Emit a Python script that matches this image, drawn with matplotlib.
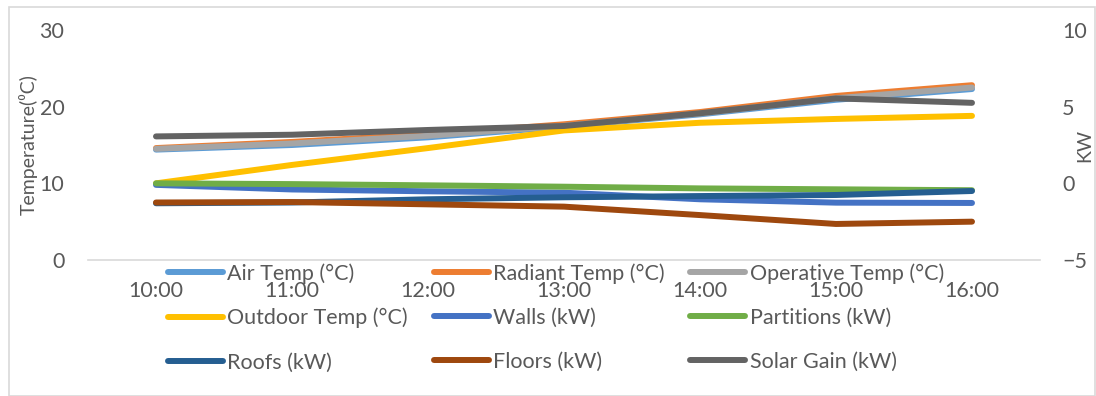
import matplotlib
matplotlib.use("Agg")
import matplotlib.pyplot as plt

plt.rcParams['font.family'] = ['Lato', 'DejaVu Sans']

hours = ["10:00", "11:00", "12:00", "13:00", "14:00", "15:00", "16:00"]

# temperatures (°C), left axis
air_temp = [14.4, 15.0, 16.0, 17.4, 19.0, 20.9, 22.3]
radiant_temp = [14.6, 15.4, 16.4, 17.7, 19.3, 21.4, 22.8]
operative_temp = [14.5, 15.2, 16.2, 17.5, 19.1, 21.1, 22.5]
outdoor_temp = [10.0, 12.4, 14.6, 16.9, 17.9, 18.4, 18.8]

# heat flows (kW), right axis
walls = [-0.1, -0.4, -0.52, -0.61, -1.04, -1.26, -1.28]
partitions = [0.0, -0.05, -0.13, -0.22, -0.33, -0.39, -0.45]
roofs = [-1.3, -1.25, -1.04, -0.91, -0.83, -0.76, -0.5]
floors = [-1.25, -1.22, -1.37, -1.52, -2.07, -2.65, -2.5]
solar_gain = [3.06, 3.17, 3.48, 3.74, 4.57, 5.54, 5.25]

W, H = 1096, 396
fig = plt.figure(figsize=(W / 100, H / 100), dpi=100)
ax = fig.add_axes([88 / W, 1 - 260 / H, (1040 - 88) / W, 230 / H])
ax2 = ax.twinx()

txt = "#595959"
fs = 15.5
lw = 4.3
x = list(range(len(hours)))

temp_series = [
    (air_temp, "Air Temp (°C)", "#5B9BD5"),
    (radiant_temp, "Radiant Temp (°C)", "#ED7D31"),
    (operative_temp, "Operative Temp (°C)", "#A5A5A5"),
    (outdoor_temp, "Outdoor Temp (°C)", "#FFC000"),
]
kw_series = [
    (walls, "Walls (kW)", "#4472C4"),
    (partitions, "Partitions (kW)", "#70AD47"),
    (roofs, "Roofs (kW)", "#255E91"),
    (floors, "Floors (kW)", "#9E480E"),
    (solar_gain, "Solar Gain (kW)", "#636363"),
]

handles = []
for vals, lab, col in temp_series:
    h, = ax.plot(x, vals, color=col, lw=lw, solid_capstyle="round", label=lab)
    handles.append(h)
for vals, lab, col in kw_series:
    h, = ax2.plot(x, vals, color=col, lw=lw, solid_capstyle="round", label=lab)
    handles.append(h)

ax.set_xlim(-0.5, len(hours) - 0.5)
ax.set_ylim(0, 30)
ax.set_yticks([0, 10, 20, 30])
ax2.set_ylim(-5, 10)
ax2.set_yticks([-5, 0, 5, 10])
ax.set_xticks(x)
ax.set_xticklabels(hours)

for a in (ax, ax2):
    for s in a.spines.values():
        s.set_visible(False)
    a.tick_params(length=0, colors=txt, labelsize=fs)
ax.spines["bottom"].set_visible(True)
ax.spines["bottom"].set_color("#D9D9D9")
ax.spines["bottom"].set_linewidth(1.2)
ax.tick_params(axis="y", pad=17)
ax2.tick_params(axis="y", pad=16)
ax.tick_params(axis="x", pad=15)

ax.set_ylabel("Temperature(⁰C)", color=txt, fontsize=14)
ax.yaxis.set_label_coords(-(88 - 38) / 952, 0.5)
ax2.set_ylabel("KW", color=txt, fontsize=14)
ax2.yaxis.set_label_coords(1 + (1076 - 1040) / 952, 0.5)

# row-major legend order for a 3-column, column-filling legend
order = [0, 3, 6, 1, 4, 7, 2, 5, 8]
leg = fig.legend([handles[i] for i in order], [handles[i].get_label() for i in order],
                 ncol=3, loc="upper left", bbox_to_anchor=(168 / W, 1 - 263 / H),
                 frameon=False, fontsize=fs, handlelength=2.55, handletextpad=0.2,
                 columnspacing=1.2, labelspacing=1.12, borderpad=0, borderaxespad=0)
for t in leg.get_texts():
    t.set_color(txt)

# chart border
fig.add_artist(plt.Rectangle((9 / W, 0), (W - 10) / W, 1 - 7 / H, transform=fig.transFigure,
                             fill=False, edgecolor="#D9D9D9", lw=1.2))

fig.savefig("out.png", dpi=100)
